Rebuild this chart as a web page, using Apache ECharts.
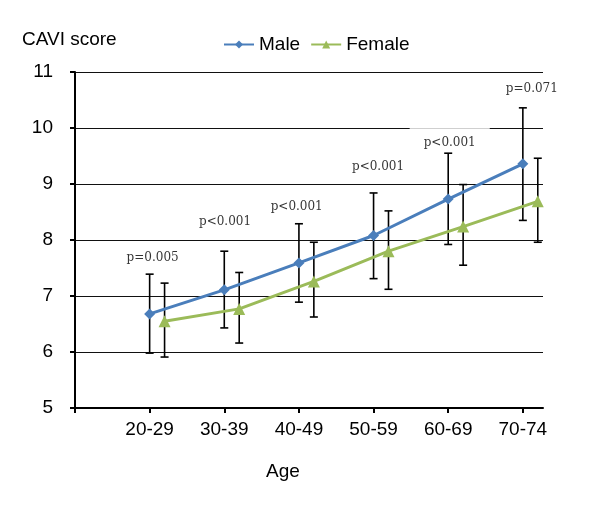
<!DOCTYPE html>
<html>
<head>
<meta charset="utf-8">
<script src="https://cdn.jsdelivr.net/npm/echarts@6/dist/echarts.min.js"></script>
<style>html,body{margin:0;padding:0;background:#fff}#c{width:600px;height:510px}</style>
</head>
<body>
<div id="c"></div>
<script>
const categories = ['20-29', '30-39', '40-49', '50-59', '60-69', '70-74'];
const maleMean   = [6.68, 7.11, 7.59, 8.08, 8.73, 9.36];
const maleUpper  = [7.39, 7.80, 8.29, 8.84, 9.55, 10.36];
const maleLower  = [5.98, 6.43, 6.89, 7.31, 7.92, 8.35];
const femaleMean  = [6.55, 6.77, 7.26, 7.80, 8.24, 8.69];
const femaleUpper = [7.23, 7.42, 7.96, 8.52, 8.99, 9.46];
const femaleLower = [5.91, 6.16, 6.625, 7.12, 7.55, 7.96];
const pValues = ['p=0.005', 'p<0.001', 'p<0.001', 'p<0.001', 'p<0.001', 'p=0.071'];
const pLabelX = [1.04, 2.01, 2.97, 4.06, 5.02, 6.12];
const pLabelY = [7.68, 8.32, 8.59, 9.30, 9.73, 10.70];
const yTicks = [5, 6, 7, 8, 9, 10, 11];

const FEMALE_OFFSET = 0.2;
const maleData = categories.map((c, i) => [i + 1, maleMean[i]]);
const femaleData = categories.map((c, i) => [i + 1 + FEMALE_OFFSET, femaleMean[i]]);
const errData = [];
categories.forEach((c, i) => {
  errData.push([i + 1, maleLower[i], maleUpper[i]]);
  errData.push([i + 1 + FEMALE_OFFSET, femaleLower[i], femaleUpper[i]]);
});
// the 60-69 annotation's white text box hides part of the 10 gridline in the original
const pData = pValues.map((p, i) => {
  const d = { value: [pLabelX[i], pLabelY[i]], name: p };
  if (i === 4) d.label = { backgroundColor: '#fff', padding: [12, 14, 6, 14] };
  return d;
});

const chart = echarts.init(document.getElementById('c'), null, { renderer: 'canvas' });
const SANS = 'Liberation Sans, Arial, sans-serif';
chart.setOption({
  backgroundColor: '#fff',
  animation: false,
  grid: { left: 75, right: 57, top: 72, bottom: 102 },
  legend: {
    data: ['Male', 'Female'],
    left: 218, top: 30,
    itemWidth: 30, itemHeight: 10, itemGap: 10,
    textStyle: { fontFamily: SANS, fontSize: 19, color: '#000' }
  },
  graphic: [
    { type: 'text', left: 22, top: 30, style: { text: 'CAVI score', font: '19px ' + SANS, fill: '#000' } },
    { type: 'text', left: 266, top: 462, style: { text: 'Age', font: '19px ' + SANS, fill: '#000' } }
  ],
  xAxis: {
    type: 'value', min: 0, max: 6.27, interval: 1,
    axisLine: { onZero: false, lineStyle: { color: '#000', width: 2 } },
    axisTick: { show: true, length: 5, customValues: [0, 1, 2, 3, 4, 5, 6], lineStyle: { color: '#000', width: 2 } },
    axisLabel: {
      customValues: [1, 2, 3, 4, 5, 6],
      formatter: v => categories[Math.round(v) - 1] || '',
      fontFamily: SANS, fontSize: 19, color: '#000', margin: 12
    },
    splitLine: { show: false }
  },
  yAxis: {
    type: 'value', min: 5, max: 11, interval: 1,
    axisLine: { show: true, lineStyle: { color: '#000', width: 2 } },
    axisTick: { show: true, length: 5, lineStyle: { color: '#000', width: 2 } },
    axisLabel: { fontFamily: SANS, fontSize: 19, color: '#000', margin: 22,
      formatter: v => yTicks.includes(v) ? String(v) : '' },
    splitLine: { show: true, lineStyle: { color: '#111', width: 1.2 } }
  },
  series: [
    {
      name: 'pvals', type: 'scatter', data: pData, symbolSize: 0, z: 1, silent: true,
      label: {
        show: true, position: 'inside', formatter: p => p.name,
        fontFamily: 'DejaVu Serif, serif', fontSize: 12, color: '#000'
      }
    },
    {
      name: 'err', type: 'custom', z: 3, silent: true,
      data: errData,
      encode: { x: 0, y: [1, 2] },
      renderItem: function (params, api) {
        const x = api.value(0);
        const lo = api.coord([x, api.value(1)]);
        const hi = api.coord([x, api.value(2)]);
        const w = 4;
        const st = { stroke: '#000', lineWidth: 1.6 };
        return { type: 'group', children: [
          { type: 'line', shape: { x1: lo[0], y1: lo[1], x2: hi[0], y2: hi[1] }, style: st },
          { type: 'line', shape: { x1: lo[0] - w, y1: lo[1], x2: lo[0] + w, y2: lo[1] }, style: st },
          { type: 'line', shape: { x1: hi[0] - w, y1: hi[1], x2: hi[0] + w, y2: hi[1] }, style: st }
        ]};
      }
    },
    {
      name: 'Male', type: 'line', data: maleData, z: 4,
      symbol: 'diamond', symbolSize: 11, color: '#4A7EBB',
      lineStyle: { width: 3, color: '#4A7EBB' }, itemStyle: { color: '#4A7EBB' }
    },
    {
      name: 'Female', type: 'line', data: femaleData, z: 4,
      symbol: 'triangle', symbolSize: 12, color: '#9BBB59',
      lineStyle: { width: 3, color: '#9BBB59' }, itemStyle: { color: '#9BBB59' }
    }
  ]
});
</script>
</body>
</html>
